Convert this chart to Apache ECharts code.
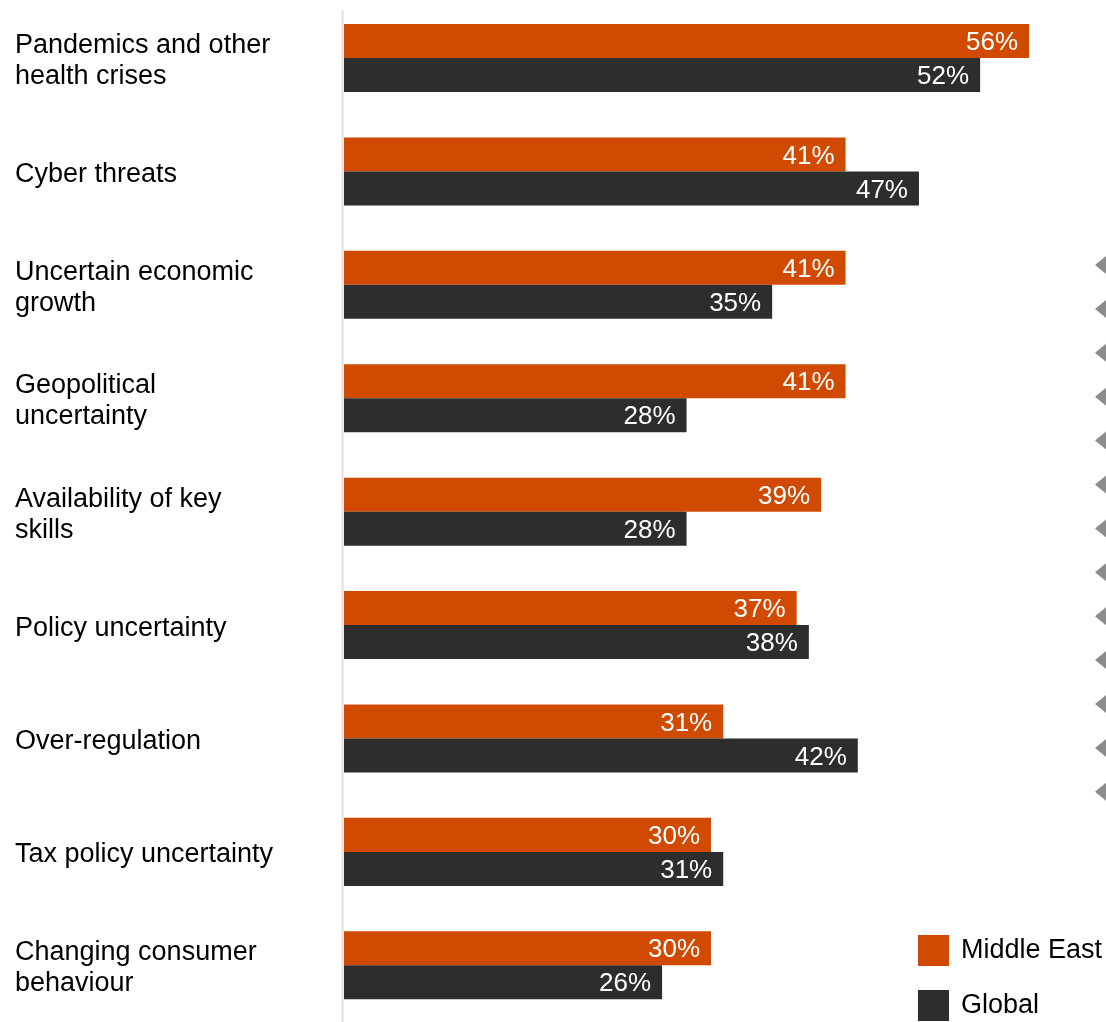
<!DOCTYPE html>
<html>
<head>
<meta charset="utf-8">
<script src="https://cdn.jsdelivr.net/npm/echarts@6/dist/echarts.min.js"></script>
<style>
  html, body { margin: 0; padding: 0; background: #fff; }
  #chart { width: 1106px; height: 1022px; }
</style>
</head>
<body>
<div id="chart"></div>
<script>
// Top business threats: share of CEOs who are extremely or somewhat concerned
const categories = [
  'Pandemics and other\nhealth crises',
  'Cyber threats',
  'Uncertain economic\ngrowth',
  'Geopolitical\nuncertainty',
  'Availability of key\nskills',
  'Policy uncertainty',
  'Over-regulation',
  'Tax policy uncertainty',
  'Changing consumer\nbehaviour'
];
const middleEast = [56, 41, 41, 41, 39, 37, 31, 30, 30];
const globalValues = [52, 47, 35, 28, 28, 38, 42, 31, 26];
const seriesNames = ['Middle East', 'Global'];

const ORANGE = '#d04a02';
const DARK = '#2d2d2d';
const FONT = '"Liberation Sans", Arial, Helvetica, sans-serif';

const chart = echarts.init(document.getElementById('chart'), null, { renderer: 'canvas' });

const valueLabel = {
  show: true,
  position: 'insideRight',
  distance: 11,
  offset: [0, 2],
  color: '#ffffff',
  fontFamily: FONT,
  fontSize: 26,
  formatter: p => p.value + '%'
};

const option = {
  animation: false,
  backgroundColor: '#ffffff',
  textStyle: { fontFamily: FONT },
  grid: { left: 344, right: 28, top: 1.3, height: 1020.7, containLabel: false },
  xAxis: {
    type: 'value',
    min: 0,
    max: 60,
    show: false
  },
  yAxis: {
    type: 'category',
    data: categories,
    inverse: true,
    axisLine: { show: false },
    axisTick: { show: false },
    axisLabel: {
      align: 'left',
      margin: 329,
      color: '#000000',
      fontFamily: FONT,
      fontSize: 27,
      lineHeight: 31,
      // a thin spacer line above each label nudges the block slightly down
      formatter: v => '{gap| }\n' + v.split('\n').map(s => '{t|' + s + '}').join('\n'),
      rich: {
        gap: { fontSize: 1, lineHeight: 6, height: 6 },
        t: { fontFamily: FONT, fontSize: 27, lineHeight: 31, color: '#000000' }
      }
    }
  },
  legend: {
    orient: 'vertical',
    left: 918,
    top: 935,
    padding: 0,
    itemWidth: 31,
    itemHeight: 31,
    itemGap: 24,
    icon: 'rect',
    textStyle: { color: '#000000', fontFamily: FONT, fontSize: 27, padding: [0, 0, 0, 7] },
    data: seriesNames
  },
  series: [
    {
      name: seriesNames[0],
      type: 'bar',
      data: middleEast,
      barGap: '0%',
      barCategoryGap: '40%',
      itemStyle: { color: ORANGE },
      label: valueLabel
    },
    {
      name: seriesNames[1],
      type: 'bar',
      data: globalValues,
      barGap: '0%',
      barCategoryGap: '40%',
      itemStyle: { color: DARK },
      label: valueLabel
    }
  ]
};

chart.setOption(option);

// Baseline rule at zero, plus the column of scroll markers along the right edge
const zeroX = chart.convertToPixel({ xAxisIndex: 0 }, 0) - 1.5;
const markers = [];
for (let i = 0; i < 13; i++) {
  const cy = 265 + i * 43.9;
  markers.push({
    type: 'polygon',
    shape: { points: [[1095, cy], [1106, cy - 9], [1106, cy + 9]] },
    style: { fill: '#8c8c8c' },
    silent: true
  });
}
chart.setOption({
  graphic: [
    {
      type: 'line',
      shape: { x1: zeroX, y1: 10, x2: zeroX, y2: 1022 },
      style: { stroke: '#e0e0e0', lineWidth: 2 },
      silent: true,
      z: 10
    }
  ].concat(markers)
});
</script>
</body>
</html>
